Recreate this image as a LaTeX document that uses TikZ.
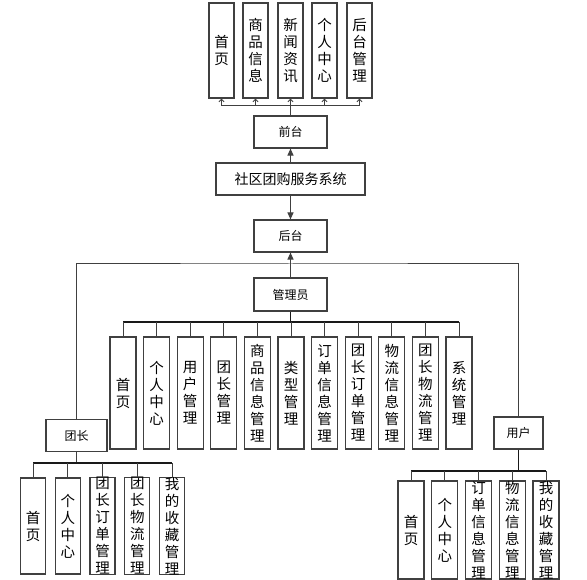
\documentclass[tikz,border=0pt]{standalone}
\usepackage{fontspec}
\setmainfont{Noto Sans CJK SC}
\usetikzlibrary{arrows.meta}
\begin{document}
\begin{tikzpicture}[x=1pt,y=-1pt,
 box/.style={draw=black!75,line width=1.1pt,fill=white,inner sep=0pt},
 hbox/.style={box,font=\fontsize{12}{14}\selectfont,minimum height=32pt},
 vbox/.style={box,minimum width=25pt,align=center,font=\fontsize{14.5}{17}\selectfont},
 conn/.style={draw=black!75,line width=1pt},
 bus/.style={draw=black!90,line width=1.6pt},
 tip/.style={-{Triangle[length=7pt,width=6pt]}},
 tick/.style={-{Straight Barb[length=2.5pt,width=5pt]}}
]
\clip (0,0) rectangle (587,580);
\fill[white] (0,0) rectangle (587,580);
% top level
\node[vbox,minimum height=95pt] (t1) at (221.5,50.5) {首\\页};
\node[vbox,minimum height=95pt] (t2) at (255.5,50.5) {商\\品\\信\\息};
\node[vbox,minimum height=95pt] (t3) at (290.5,50.5) {新\\闻\\资\\讯};
\node[vbox,minimum height=95pt] (t4) at (324.5,50.5) {个\\人\\中\\心};
\node[vbox,minimum height=95pt] (t5) at (359.5,50.5) {后\\台\\管\\理};
\node[hbox,minimum width=73pt] (qt) at (290.5,132) {前台};
\node[box,font=\fontsize{14}{16}\selectfont,minimum width=149pt,minimum height=32pt] (sys) at (290.5,179) {社区团购服务系统};
\node[hbox,minimum width=73pt] (ht) at (290.5,236) {后台};
\node[hbox,minimum width=73pt,minimum height=33pt] (gly) at (290.5,294.5) {管理员};
\node[hbox,minimum width=61pt] (tz) at (76.5,435.5) {团长};
\node[hbox,minimum width=49pt] (yh) at (518.5,433) {用户};
% admin children
\node[vbox,minimum width=26pt,minimum height=112pt] (a1) at (123,393) {首\\页};
\node[vbox,minimum width=26pt,minimum height=112pt] (a2) at (156.6,393) {个\\人\\中\\心};
\node[vbox,minimum width=26pt,minimum height=112pt] (a3) at (190.2,393) {用\\户\\管\\理};
\node[vbox,minimum width=26pt,minimum height=112pt] (a4) at (223.8,393) {团\\长\\管\\理};
\node[vbox,minimum width=26pt,minimum height=112pt] (a5) at (257.4,393) {商\\品\\信\\息\\管\\理};
\node[vbox,minimum width=26pt,minimum height=112pt] (a6) at (291,393) {类\\型\\管\\理};
\node[vbox,minimum width=26pt,minimum height=112pt] (a7) at (324.6,393) {订\\单\\信\\息\\管\\理};
\node[vbox,minimum width=26pt,minimum height=112pt] (a8) at (358.2,393) {团\\长\\订\\单\\管\\理};
\node[vbox,minimum width=26pt,minimum height=112pt] (a9) at (391.8,393) {物\\流\\信\\息\\管\\理};
\node[vbox,minimum width=26pt,minimum height=112pt] (a10) at (425.4,393) {团\\长\\物\\流\\管\\理};
\node[vbox,minimum width=26pt,minimum height=112pt] (a11) at (459,393) {系\\统\\管\\理};
% tuanzhang children
\node[vbox,minimum height=96pt] (z1) at (33,526) {首\\页};
\node[vbox,minimum height=96pt] (z2) at (67.75,526) {个\\人\\中\\心};
\node[vbox,minimum height=96pt] (z3) at (102.5,526) {团\\长\\订\\单\\管\\理};
\node[vbox,minimum height=96pt] (z4) at (137.25,526) {团\\长\\物\\流\\管\\理};
\node[vbox,minimum height=96pt] (z5) at (172,526) {我\\的\\收\\藏\\管\\理};
% user children
\node[vbox,minimum width=26pt,minimum height=98pt] (u1) at (411,530) {首\\页};
\node[vbox,minimum width=26pt,minimum height=98pt] (u2) at (444.75,530) {个\\人\\中\\心};
\node[vbox,minimum width=26pt,minimum height=98pt] (u3) at (478.5,530) {订\\单\\信\\息\\管\\理};
\node[vbox,minimum width=26pt,minimum height=98pt] (u4) at (512.25,530) {物\\流\\信\\息\\管\\理};
\node[vbox,minimum width=26pt,minimum height=98pt] (u5) at (546,530) {我\\的\\收\\藏\\管\\理};
% connectors
\coordinate (tb) at (290.5,106);
\draw[conn] (qt.north) -- (tb);
\draw[conn] (t1.south |- tb) -- (t5.south |- tb);
\foreach \i in {1,...,5} {\draw[conn,tick] (t\i.south |- tb) -- (t\i.south);}
\draw[conn,tip] (sys) -- (qt);
\draw[conn,tip] (sys) -- (ht);
\draw[conn,tip] (gly) -- (ht);
\coordinate (hl) at (290.5,264);
\draw[conn] (tz.north) |- (hl) -| (yh.north);
\coordinate (ab) at (290.5,322);
\draw[bus] (gly.south) -- (ab);
\draw[bus] (a1.north |- ab) -- (a11.north |- ab);
\foreach \i in {1,...,11} {\draw[conn] (a\i.north |- ab) -- (a\i.north);}
\coordinate (zb) at (76.5,463);
\draw[conn] (tz.south) -- (zb);
\draw[bus] (z1.north |- zb) -- (z5.north |- zb);
\foreach \i in {1,...,5} {\draw[conn] (z\i.north |- zb) -- (z\i.north);}
\coordinate (ub) at (518.5,471);
\draw[bus] (yh.south) -- (ub);
\draw[bus] (u1.north |- ub) -- (u5.north |- ub);
\foreach \i in {1,...,5} {\draw[conn] (u\i.north |- ub) -- (u\i.north);}
\end{tikzpicture}
\end{document}
